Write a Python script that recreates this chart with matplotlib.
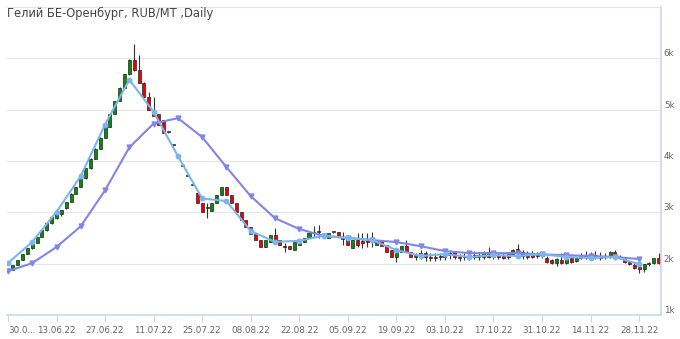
import numpy as np
import matplotlib
matplotlib.use("Agg")
import matplotlib.pyplot as plt

# daily candles, one per trading day starting 30.05.22
opens = [1850, 1880, 1970, 2070, 2185, 2300, 2400, 2515, 2650, 2785,
         2880, 2960, 3075, 3205, 3365, 3495, 3660, 3855, 4045, 4240,
         4455, 4665, 4925, 5170, 5430, 5690, 5975, 5770, 5515, 5245,
         4990, 4910, 4795, 4565, 4310, 4115, 3900, 3705, 3530, 3375,
         3180, 3100, 3025, 3180, 3335, 3490, 3335, 3180, 3005, 2850,
         2710, 2575, 2460, 2320, 2420, 2555, 2460, 2350, 2340, 2265,
         2360, 2420, 2520, 2600, 2610, 2560, 2500, 2615, 2615, 2500,
         2500, 2305, 2460, 2440, 2470, 2460, 2360, 2460, 2360, 2265,
         2130, 2225, 2340, 2225, 2130, 2205, 2205, 2130, 2130, 2125,
         2165, 2165, 2225, 2130, 2150, 2165, 2165, 2160, 2130, 2225,
         2150, 2165, 2150, 2185, 2185, 2285, 2225, 2205, 2200, 2150,
         2200, 2110, 2070, 2010, 2070, 2010, 2110, 2050, 2150, 2165,
         2165, 2160, 2130, 2130, 2130, 2225, 2130, 2090, 2030, 1975,
         1935, 1895, 1990, 2010, 2110]
highs = [1910, 1980, 2075, 2190, 2305, 2405, 2520, 2655, 2790, 2905,
         2985, 3045, 3210, 3370, 3500, 3665, 3860, 4050, 4245, 4460,
         4700, 4930, 5175, 5435, 5695, 5980, 6270, 6060, 5530, 5340,
         5240, 4920, 4800, 4570, 4315, 4120, 3905, 3710, 3535, 3380,
         3185, 3180, 3180, 3335, 3490, 3495, 3340, 3185, 3010, 2855,
         2715, 2580, 2465, 2460, 2560, 2690, 2465, 2400, 2345, 2420,
         2460, 2500, 2595, 2730, 2750, 2600, 2600, 2620, 2620, 2615,
         2505, 2460, 2595, 2595, 2595, 2615, 2460, 2465, 2365, 2270,
         2305, 2345, 2460, 2230, 2200, 2260, 2250, 2200, 2200, 2210,
         2230, 2260, 2240, 2190, 2210, 2230, 2240, 2220, 2250, 2320,
         2210, 2230, 2200, 2230, 2290, 2380, 2260, 2240, 2240, 2230,
         2230, 2150, 2090, 2110, 2205, 2110, 2150, 2130, 2200, 2240,
         2230, 2240, 2220, 2200, 2250, 2260, 2170, 2130, 2060, 2010,
         1960, 2000, 2040, 2120, 2210]
lows = [1840, 1870, 1965, 2065, 2180, 2295, 2395, 2510, 2645, 2780,
        2875, 2930, 3070, 3200, 3360, 3490, 3655, 3850, 4040, 4235,
        4450, 4660, 4920, 5165, 5425, 5685, 5760, 5510, 5240, 4985,
        4870, 4695, 4540, 4555, 4300, 4105, 3895, 3700, 3525, 3175,
        3000, 2885, 3020, 3175, 3330, 3335, 3180, 3005, 2850, 2710,
        2575, 2460, 2320, 2315, 2415, 2420, 2360, 2225, 2285, 2260,
        2355, 2415, 2515, 2520, 2500, 2520, 2495, 2605, 2520, 2360,
        2360, 2300, 2320, 2305, 2325, 2325, 2355, 2340, 2225, 2130,
        2030, 2220, 2225, 2125, 2080, 2100, 2060, 2060, 2060, 2070,
        2080, 2100, 2100, 2060, 2080, 2080, 2090, 2080, 2100, 2110,
        2090, 2100, 2090, 2100, 2160, 2180, 2100, 2100, 2110, 2120,
        2120, 2020, 1990, 1950, 1990, 1990, 2020, 2030, 2090, 2090,
        2100, 2090, 2080, 2090, 2110, 2120, 2090, 2020, 1980, 1900,
        1820, 1840, 1960, 1990, 2000]
closes = [1900, 1970, 2070, 2185, 2300, 2400, 2515, 2650, 2785, 2900,
          2980, 3040, 3205, 3365, 3495, 3660, 3855, 4045, 4240, 4455,
          4695, 4925, 5170, 5430, 5690, 5975, 5770, 5515, 5245, 4990,
          4875, 4700, 4545, 4560, 4305, 4110, 3900, 3705, 3530, 3180,
          3005, 3080, 3180, 3335, 3490, 3335, 3180, 3005, 2850, 2710,
          2575, 2460, 2320, 2460, 2555, 2420, 2360, 2330, 2285, 2420,
          2460, 2500, 2595, 2590, 2620, 2550, 2595, 2610, 2520, 2490,
          2360, 2460, 2360, 2410, 2420, 2430, 2460, 2340, 2225, 2130,
          2225, 2340, 2225, 2130, 2165, 2130, 2130, 2110, 2120, 2130,
          2130, 2205, 2130, 2110, 2130, 2130, 2130, 2130, 2225, 2130,
          2130, 2130, 2110, 2130, 2265, 2205, 2150, 2130, 2130, 2205,
          2150, 2030, 2010, 2090, 2010, 2090, 2030, 2110, 2110, 2130,
          2130, 2130, 2110, 2125, 2225, 2130, 2110, 2030, 1990, 1915,
          1895, 1990, 2010, 2110, 2010]

# weekly lines (one point every 5 trading days)
week_idx = list(range(0, 131, 5))
fast_line = [2010, 2425, 3010, 3710, 4710, 5585, 4955, 4095, 3270, 3220,
             2635, 2425, 2445, 2545, 2500, 2460, 2265, 2150, 2185, 2130,
             2165, 2150, 2185, 2130, 2110, 2130, 1990]
slow_line = [1855, 2010, 2325, 2730, 3430, 4265, 4730, 4835, 4465, 3880,
             3315, 2885, 2675, 2540, 2500, 2460, 2420, 2340, 2245, 2205,
             2205, 2205, 2180, 2165, 2150, 2130, 2090]

tick_idx = list(range(0, 131, 10))
tick_labels = ["30.0...", "13.06.22", "27.06.22", "11.07.22", "25.07.22",
               "08.08.22", "22.08.22", "05.09.22", "19.09.22", "03.10.22",
               "17.10.22", "31.10.22", "14.11.22", "28.11.22"]

o = np.array(opens)
h = np.array(highs)
l = np.array(lows)
c = np.array(closes)
x = np.arange(len(o))

fig = plt.figure(figsize=(6.8, 3.39), dpi=100)
ax = fig.add_axes([7 / 680, 1 - 315 / 339, 654 / 680, 308 / 339])

for v in range(1000, 7001, 1000):
    ax.axhline(v, color="#e6e6e6", lw=0.8, zorder=0)

up = c >= o
colors = np.where(up, "#0a8a0a", "#f00000")
ax.vlines(x, l, h, color="#333333", lw=0.8, zorder=1)
body = np.maximum(np.abs(c - o), 18)
ax.bar(x, body, bottom=np.minimum(o, c), width=0.62, color=colors,
       edgecolor="#222222", linewidth=0.5, zorder=2)

ax.plot(week_idx, slow_line, color="#8085e9", lw=1.5, marker="v",
        ms=3.5, zorder=3)
ax.plot(week_idx, fast_line, color="#7cb5ec", lw=1.5, marker="o",
        ms=3.2, zorder=4)

ax.set_xlim(-0.2, 134.5)
ax.set_ylim(1000, 7000)

for s in ["left", "top"]:
    ax.spines[s].set_visible(False)
for s in ["right", "bottom"]:
    ax.spines[s].set_color("#ccd6eb")
    ax.spines[s].set_linewidth(1.2)

ax.set_xticks(tick_idx)
ax.set_xticklabels(tick_labels, fontsize=6.3, color="#666666",
                   family="DejaVu Sans")
ax.get_xticklabels()[0].set_horizontalalignment("left")
ax.tick_params(axis="x", length=5, color="#ccd6eb", pad=3)

ax.yaxis.tick_right()
ax.set_yticks([1000, 2000, 3000, 4000, 5000, 6000])
ax.set_yticklabels(["1k", "2k", "3k", "4k", "5k", "6k"], fontsize=6.3,
                   color="#666666", va="bottom")
ax.tick_params(axis="y", length=0, pad=2)

fig.text(7 / 680, 1 - 13 / 339, "Гелий БЕ-Оренбург, RUB/MT ,Daily",
         fontsize=8.3, color="#444444", va="center", ha="left")

fig.savefig("out.png", dpi=100)
